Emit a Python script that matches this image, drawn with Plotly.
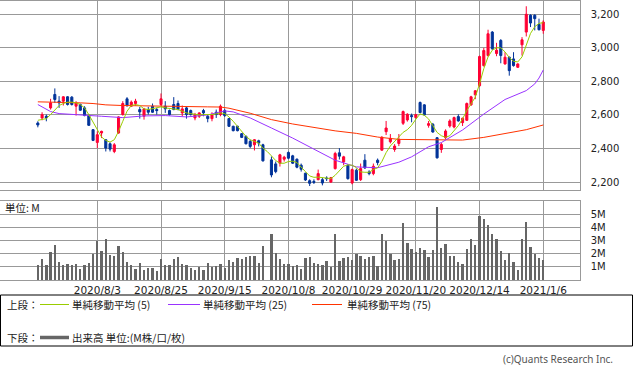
import plotly.graph_objects as go

W, H = 633, 372

# ---------------- data ----------------
tick_idx = [14, 29, 44, 59, 74, 89, 104, 119]
tick_labels = ["2020/8/3", "2020/8/25", "2020/9/15", "2020/10/8",
               "2020/10/29", "2020/11/20", "2020/12/14", "2021/1/6"]

opens = [2552, 2582, 2592, 2642, 2722, 2682, 2682, 2708, 2706, 2652,
         2662, 2642, 2596, 2512, 2436, 2492, 2452, 2428, 2382, 2492,
         2602, 2696, 2652, 2668, 2632, 2592, 2632, 2652, 2632, 2662,
         2652, 2626, 2662, 2668, 2612, 2642, 2626, 2582, 2592, 2626,
         2592, 2578, 2616, 2602, 2626, 2578, 2532, 2532, 2488, 2472,
         2442, 2422, 2446, 2422, None, 2332, 2308, 2312, 2336, 2376,
         2356, 2336, 2300, 2252, 2208, 2204, 2214, 2214, 2224, 2200,
         2280, 2374, 2320, 2300, 2194, 2270, 2214, 2330, 2260, 2250,
         2330, 2390, 2500, 2440, 2394, 2430, 2550, 2570, 2596, 2584,
         2674, 2660, 2538, 2544, 2464, 2394, 2464, 2534, 2528, 2590,
         2554, 2568, 2660, 2720, 2774, 2894, 2954, 3094, 2966, 3044,
         2904, 2944, 2934, 2884, 3018, 3094, 3194, 3194, 3140, 3104]
highs = [2562, 2616, 2602, 2696, 2758, 2712, 2712, 2712, 2712, 2682,
         2668, 2652, 2602, 2516, 2502, 2506, 2456, 2436, 2432, 2592,
         2682, 2706, 2686, 2696, 2648, 2642, 2648, 2668, 2642, 2728,
         2682, 2632, 2706, 2686, 2656, 2648, 2632, 2612, 2616, 2636,
         2602, 2616, 2632, 2662, 2636, 2582, 2536, 2536, 2492, 2478,
         2452, 2456, 2452, 2428, None, 2352, 2322, 2368, 2356, 2382,
         2362, 2340, 2310, 2256, 2216, 2216, 2274, 2224, 2234, 2230,
         2380, 2402, 2356, 2306, 2280, 2280, 2310, 2366, 2270, 2310,
         2340, 2474, 2564, 2486, 2426, 2486, 2626, 2610, 2608, 2606,
         2680, 2664, 2564, 2552, 2468, 2434, 2514, 2574, 2590, 2604,
         2584, 2674, 2714, 2748, 2954, 3000, 3108, 3100, 3030, 3052,
         2974, 2948, 2974, 2908, 3064, 3248, 3200, 3200, 3174, 3164]
lows = [2526, 2568, 2562, 2632, 2672, 2642, 2656, 2656, 2656, 2596,
        2624, 2592, 2534, 2444, 2402, 2462, 2382, 2382, 2372, 2488,
        2596, 2648, 2648, 2656, 2578, 2572, 2602, 2612, 2602, 2652,
        2612, 2596, 2628, 2628, 2592, 2578, 2596, 2568, 2582, 2592,
        2556, 2562, 2582, 2592, 2588, 2528, 2502, 2502, 2462, 2424,
        2402, 2388, 2412, 2322, None, 2228, 2252, 2292, 2322, 2336,
        2308, 2282, 2262, 2206, 2176, 2188, 2210, 2180, 2206, 2194,
        2274, 2334, 2300, 2214, 2186, 2206, 2206, 2278, 2240, 2240,
        2300, 2386, 2480, 2430, 2380, 2414, 2540, 2560, 2556, 2580,
        2610, 2596, 2524, 2494, 2340, 2374, 2454, 2524, 2520, 2560,
        2534, 2564, 2654, 2694, 2768, 2888, 2948, 2988, 2950, 2908,
        2900, 2834, 2888, 2880, 2954, 3068, 3124, 3104, 3104, 3084]
closes = [2540, 2602, 2582, 2672, 2692, 2672, 2708, 2662, 2662, 2672,
          2628, 2596, 2538, 2448, 2482, 2502, 2402, 2396, 2422, 2588,
          2668, 2656, 2676, 2682, 2618, 2636, 2616, 2616, 2626, 2696,
          2636, 2602, 2632, 2632, 2636, 2602, 2602, 2602, 2612, 2612,
          2578, 2602, 2602, 2652, 2596, 2532, 2506, 2506, 2466, 2428,
          2412, 2452, 2432, 2326, None, 2242, 2262, 2362, 2348, 2342,
          2312, 2288, 2276, 2212, 2192, 2198, 2250, 2194, 2220, 2226,
          2370, 2354, 2350, 2220, 2274, 2210, 2280, 2284, 2250, 2294,
          2316, 2466, 2522, 2460, 2414, 2454, 2620, 2604, 2590, 2602,
          2614, 2600, 2548, 2498, 2344, 2424, 2504, 2564, 2584, 2564,
          2580, 2668, 2708, 2744, 2948, 2984, 3084, 2994, 2986, 2954,
          2944, 2864, 2894, 2904, 3048, 3200, 3148, 3174, 3108, 3154]

volume_m = [1.14, 1.59, 1.14, 2.12, 2.65, 1.39, 1.14, 1.21, 1.14, 1.21,
            0.83, 1.14, 1.31, 1.97, 2.95, 2.20, 3.08, 1.89, 1.82, 2.58,
            2.12, 1.39, 1.14, 0.83, 1.29, 0.76, 0.91, 0.91, 0.68, 1.59,
            1.14, 1.14, 1.59, 1.74, 1.21, 1.14, 0.93, 0.76, 0.98, 0.76,
            1.29, 0.98, 1.06, 1.21, 0.93, 1.52, 1.36, 1.67, 1.59, 1.74,
            1.82, 1.82, 1.29, 2.58, None, 3.48, 2.05, 1.59, 1.21, 1.21,
            1.06, 1.14, 0.83, 1.67, 1.74, 1.31, 1.21, 1.14, 1.46, 0.98,
            3.48, 1.44, 1.64, 1.77, 1.52, 1.97, 1.82, 1.59, 1.77, 1.82,
            1.06, 3.48, 2.95, 1.97, 1.52, 1.59, 4.32, 2.80, 2.35, 2.12,
            2.42, 2.27, 1.74, 2.27, 5.53, 2.42, 2.73, 1.82, 1.82, 1.36,
            1.21, 2.35, 3.11, 2.65, 4.85, 4.62, 4.17, 3.48, 3.11, 2.20,
            1.52, 2.05, 1.39, 0.76, 3.11, 4.39, 2.50, 1.97, 1.67, 1.52]

sma5 = [2568, 2572, 2578, 2602, 2632, 2656, 2668, 2676, 2676, 2672,
        2662, 2642, 2602, 2556, 2508, 2468, 2448, 2438, 2452, 2502,
        2562, 2622, 2656, 2662, 2656, 2636, 2632, 2636, 2640, 2648,
        2642, 2638, 2636, 2632, 2622, 2612, 2608, 2604, 2600, 2602,
        2600, 2602, 2606, 2612, 2608, 2588, 2562, 2532, 2498, 2472,
        2452, 2442, 2432, 2402, 2382, 2356, 2328, 2312, 2312, 2322,
        2324, 2316, 2292, 2262, 2236, 2228, 2229, 2226, 2222, 2220,
        2240, 2270, 2294, 2302, 2300, 2286, 2260, 2258, 2258, 2274,
        2285, 2322, 2375, 2415, 2440, 2466, 2496, 2512, 2538, 2574,
        2606, 2598, 2576, 2536, 2496, 2476, 2466, 2476, 2506, 2536,
        2576, 2626, 2666, 2706, 2786, 2876, 2946, 2986, 3000, 3000,
        2976, 2942, 2920, 2916, 2946, 3022, 3086, 3126, 3146, 3150]

sma25_idx = [0, 3, 5, 10, 15, 20, 25, 30, 35, 40, 44, 46, 50, 55, 60, 65,
             70, 75, 80, 85, 88, 90, 92, 95, 100, 105, 110, 115, 117, 118, 119]
sma25 = [2662, 2620, 2608, 2598, 2592, 2584, 2594, 2596, 2588, 2600, 2624,
         2618, 2582, 2522, 2462, 2396, 2330, 2290, 2285, 2318, 2350, 2380,
         2410, 2435, 2510, 2605, 2692, 2745, 2785, 2820, 2868]

sma75_idx = [0, 5, 10, 13, 16, 20, 30, 40, 43, 45, 50, 55, 60, 65, 70, 75,
             80, 85, 90, 95, 100, 105, 110, 115, 119]
sma75 = [2678, 2676, 2672, 2668, 2660, 2656, 2650, 2648, 2647, 2640, 2610,
         2572, 2546, 2524, 2505, 2490, 2468, 2454, 2452, 2448, 2450, 2466,
         2488, 2512, 2540]

price_ticks = [2200, 2400, 2600, 2800, 3000, 3200]
vol_ticks = [1, 2, 3, 4, 5]
vol_tick_labels = ["1M", "2M", "3M", "4M", "5M"]

days = list(range(len(closes)))

# ---------------- styling ----------------
RED = "#ff0033"
BLUE = "#003399"
GRID = "#999999"
C5, C25, C75 = "#99cc00", "#9933ff", "#ff3300"
TXT = "#222222"
JP = "Noto Sans CJK JP"


def px(x):
    return x / W


def py(y):
    return 1 - y / H


X_RANGE = [-8.91, 127.58]
X_DOM = [0, px(579.7)]

fig = go.Figure()

fig.add_trace(go.Candlestick(
    x=days, open=opens, high=highs, low=lows, close=closes,
    increasing=dict(line=dict(color=RED, width=1), fillcolor=RED),
    decreasing=dict(line=dict(color=BLUE, width=1), fillcolor=BLUE),
    whiskerwidth=0, xaxis="x", yaxis="y", showlegend=False, hoverinfo="skip"))

fig.add_trace(go.Scatter(x=sma75_idx, y=sma75, mode="lines",
                         line=dict(color=C75, width=1), xaxis="x", yaxis="y",
                         showlegend=False, hoverinfo="skip"))
fig.add_trace(go.Scatter(x=sma25_idx, y=sma25, mode="lines",
                         line=dict(color=C25, width=1), xaxis="x", yaxis="y",
                         showlegend=False, hoverinfo="skip"))
fig.add_trace(go.Scatter(x=days, y=sma5, mode="lines",
                         line=dict(color=C5, width=1), xaxis="x", yaxis="y",
                         showlegend=False, hoverinfo="skip"))

fig.add_trace(go.Bar(x=days, y=volume_m, width=0.55,
                     marker=dict(color="#666666", line=dict(width=0)),
                     xaxis="x2", yaxis="y2", showlegend=False, hoverinfo="skip"))

axis_common = dict(showgrid=True, gridcolor=GRID, gridwidth=1, zeroline=False,
                   showline=True, mirror=True, linecolor=GRID, linewidth=1,
                   fixedrange=True)

fig.update_layout(
    width=W, height=H,
    margin=dict(l=0, r=0, t=0, b=0),
    paper_bgcolor="white", plot_bgcolor="white",
    bargap=0,
    hovermode=False,
    xaxis=dict(domain=X_DOM, range=X_RANGE, anchor="y",
               tickvals=tick_idx, showticklabels=False, ticks="",
               rangeslider=dict(visible=False), **axis_common),
    yaxis=dict(domain=[py(190.3), py(0.5)], range=[2150.5, 3282.3],
               anchor="x", side="right", tickvals=price_ticks, tickformat=",",
               ticks="outside", ticklen=8, tickcolor="rgba(0,0,0,0)",
               tickfont=dict(family="DejaVu Sans", size=10, color=TXT),
               **axis_common),
    xaxis2=dict(domain=X_DOM, range=X_RANGE, anchor="y2",
                tickvals=tick_idx, ticktext=tick_labels, ticks="",
                tickfont=dict(family="DejaVu Sans", size=10.5, color=TXT),
                **axis_common),
    yaxis2=dict(domain=[py(280), py(201)], range=[0, 6], anchor="x2",
                side="right", tickvals=vol_ticks, ticktext=vol_tick_labels,
                ticks="outside", ticklen=8, tickcolor="rgba(0,0,0,0)",
                tickfont=dict(family="DejaVu Sans", size=10, color=TXT),
                **axis_common),
)

shapes = [
    # legend frame
    dict(type="rect", xref="paper", yref="paper",
         x0=px(0.5), x1=px(632.5), y0=py(346), y1=py(295),
         line=dict(color="#000000", width=1)),
    # legend line samples
    dict(type="line", xref="paper", yref="paper", x0=px(40), x1=px(69),
         y0=py(304.5), y1=py(304.5), line=dict(color=C5, width=1)),
    dict(type="line", xref="paper", yref="paper", x0=px(168), x1=px(200),
         y0=py(304.5), y1=py(304.5), line=dict(color=C25, width=1)),
    dict(type="line", xref="paper", yref="paper", x0=px(312), x1=px(342),
         y0=py(304.5), y1=py(304.5), line=dict(color=C75, width=1)),
    dict(type="line", xref="paper", yref="paper", x0=px(40), x1=px(69),
         y0=py(337.5), y1=py(337.5), line=dict(color="#666666", width=3.5)),
]
fig.update_layout(shapes=shapes)


def txt(x, y, s, size=10.5, color=TXT, family=JP, anchor="left"):
    fig.add_annotation(x=px(x), y=py(y), xref="paper", yref="paper", text=s,
                       showarrow=False, xanchor=anchor, yanchor="middle",
                       font=dict(family=family, size=size, color=color))


txt(3, 208, "単位: M", size=10.5)
txt(5, 304.5, "上段：")
txt(70, 304.5, "単純移動平均 (5)")
txt(201, 304.5, "単純移動平均 (25)")
txt(345, 304.5, "単純移動平均 (75)")
txt(5, 337.5, "下段：")
txt(70, 337.5, "出来高 単位:(M株/口/枚)")
txt(615, 359, "(c)Quants Research Inc.", size=10, color="#555555",
    family="Noto Sans", anchor="right")

fig.write_html("out.html",
               config={"displayModeBar": False, "staticPlot": True},
               post_script="document.body.style.margin='0';"
                           "document.body.style.overflow='hidden';")
